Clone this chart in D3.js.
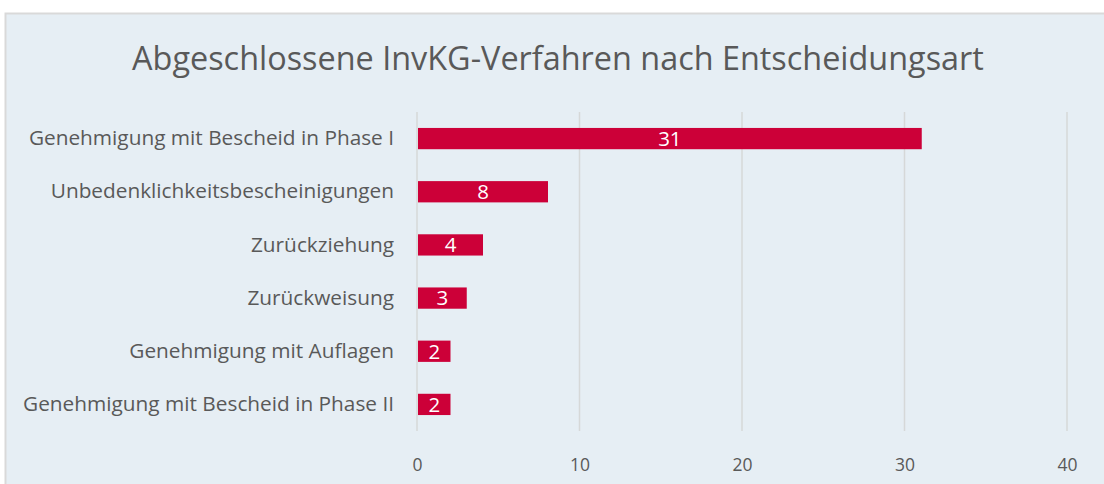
<!DOCTYPE html>
<html>
<head>
<meta charset="utf-8">
<script src="https://cdn.jsdelivr.net/npm/d3@7"></script>
<style>
  html, body { margin: 0; padding: 0; background: #ffffff; }
  svg { display: block; }
</style>
</head>
<body>
<svg id="chart" width="1104" height="484"></svg>
<script>
const categories = [
  "Genehmigung mit Bescheid in Phase I",
  "Unbedenklichkeitsbescheinigungen",
  "Zurückziehung",
  "Zurückweisung",
  "Genehmigung mit Auflagen",
  "Genehmigung mit Bescheid in Phase II"
];
const values = [31, 8, 4, 3, 2, 2];
const tickValues = [0, 10, 20, 30, 40];
const title = "Abgeschlossene InvKG-Verfahren nach Entscheidungsart";

const W = 1104, H = 484;
const svg = d3.select("#chart");
const font = "'Open Sans', 'Noto Sans', sans-serif";

// frame
svg.append("rect")
  .attr("x", 5.5).attr("y", 13.5)
  .attr("width", W + 10).attr("height", H + 10)
  .attr("fill", "#e6eef4")
  .attr("stroke", "#d9d9d9").attr("stroke-width", 2);

const plot = { left: 417, right: 1067, top: 112, bottom: 431 };

const x = d3.scaleLinear().domain([0, 40]).range([plot.left, plot.right]);
const y = d3.scaleBand().domain(categories).range([plot.top, plot.bottom]).paddingInner(0.6).paddingOuter(0.3);

// gridlines
svg.append("g").selectAll("line").data(tickValues).join("line")
  .attr("x1", d => x(d)).attr("x2", d => x(d))
  .attr("y1", plot.top).attr("y2", plot.bottom)
  .attr("stroke", "#d6d8d8").attr("stroke-width", 1.5);

// x tick labels
const xAxis = d3.axisBottom(x).tickValues(tickValues).tickSize(0).tickPadding(0);
const gx = svg.append("g").attr("transform", `translate(0,${plot.bottom + 31})`).call(xAxis);
gx.select(".domain").remove();
gx.selectAll("text")
  .attr("font-family", font).attr("font-size", 17.5).attr("fill", "#595959")
  .attr("dy", "0.5em");

// y labels
const yAxis = d3.axisLeft(y).tickSize(0).tickPadding(23);
const gy = svg.append("g").attr("transform", `translate(${plot.left},0)`).call(yAxis);
gy.select(".domain").remove();
gy.selectAll("text")
  .attr("font-family", font).attr("font-size", 20.8).attr("fill", "#595959");

// bars
svg.append("g").selectAll("rect").data(values).join("rect")
  .attr("x", x(0) + 1)
  .attr("y", (d, i) => y(categories[i]))
  .attr("width", d => x(d) - x(0))
  .attr("height", y.bandwidth())
  .attr("fill", "#cc0038");

// value labels
svg.append("g").selectAll("text").data(values).join("text")
  .attr("x", d => (x(0) + x(d)) / 2 + 1)
  .attr("y", (d, i) => y(categories[i]) + y.bandwidth() / 2)
  .attr("dy", "0.36em")
  .attr("text-anchor", "middle")
  .attr("font-family", font).attr("font-size", 20.5).attr("fill", "#ffffff")
  .text(d => d);

// title
svg.append("text")
  .attr("x", 558).attr("y", 58)
  .attr("dy", "0.36em")
  .attr("text-anchor", "middle")
  .attr("font-family", font).attr("font-size", 32.4).attr("fill", "#595959")
  .text(title);
</script>
</body>
</html>
